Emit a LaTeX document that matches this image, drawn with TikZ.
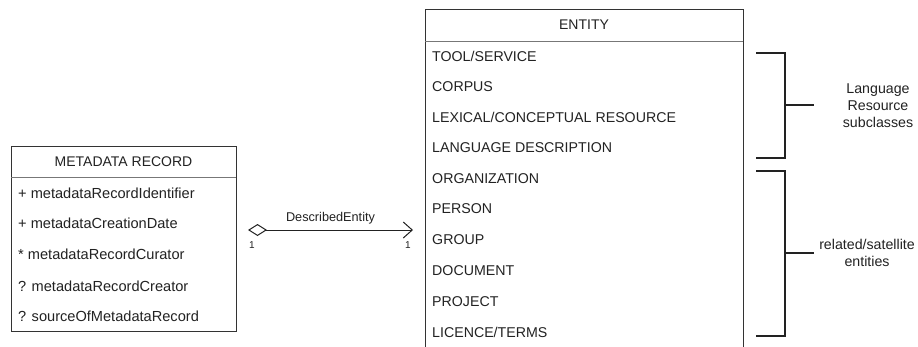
\documentclass[tikz,border=0pt]{standalone}
\usepackage{fontspec}
\setmainfont{Liberation Sans}
\usetikzlibrary{arrows.meta,calc}
\definecolor{boxline}{HTML}{333333}
\definecolor{divline}{HTML}{777777}
\definecolor{txt}{HTML}{222222}
\begin{document}
\begin{tikzpicture}[x=1pt,y=-1pt,
  box/.style={draw=boxline,line width=1pt,rectangle,inner sep=0pt,anchor=north west},
  item/.style={anchor=west,inner sep=0pt,text=txt,font=\fontsize{14.2}{16}\selectfont},
  mitem/.style={anchor=west,inner sep=0pt,text=txt,font=\fontsize{14.6}{16}\selectfont},
  head/.style={anchor=center,inner sep=0pt,text=txt,font=\fontsize{14}{16}\selectfont},
  small/.style={inner sep=0pt,text=txt,font=\fontsize{12.7}{15}\selectfont},
  tiny/.style={inner sep=0pt,text=txt,font=\fontsize{10}{11}\selectfont},
  brace/.style={draw=txt,line width=2pt},
  note/.style={align=center,inner sep=0pt,text=txt,font=\fontsize{14.2}{17}\selectfont}]
\useasboundingbox (0,0) rectangle (918,346);
\clip (0,0) rectangle (918,346);
\fill[white] (0,0) rectangle (918,346);
% METADATA RECORD
\node[box,minimum width=225pt,minimum height=185pt] (meta) at (11,146) {};
\draw[divline,line width=1pt] (11,177) -- (236,177);
\node[head] (metah) at (123.5,162) {METADATA RECORD};
\node[mitem] (m1) at (18,193) {+ metadataRecordIdentifier};
\node[mitem] (m2) at (18,223) {+ metadataCreationDate};
\node[mitem] (m3) at (18,254) {* metadataRecordCurator};
\node[mitem] (m4) at (18,286) {? metadataRecordCreator};
\node[mitem] (m5) at (18,316) {? sourceOfMetadataRecord};
% ENTITY
\node[box,minimum width=318pt,minimum height=360pt] (ent) at (425,9) {};
\draw[divline,line width=1pt] (425,41) -- (743,41);
\node[head] (enth) at (584,25) {ENTITY};
\node[item] (e1) at (432,56) {TOOL/SERVICE};
\node[item] (e2) at (432,87) {CORPUS};
\node[item] (e3) at (432,117) {LEXICAL/CONCEPTUAL RESOURCE};
\node[item] (e4) at (432,148) {LANGUAGE DESCRIPTION};
\node[item] (e5) at (432,179) {ORGANIZATION};
\node[item] (e6) at (432,209) {PERSON};
\node[item] (e7) at (432,240) {GROUP};
\node[item] (e8) at (432,271) {DOCUMENT};
\node[item] (e9) at (432,302) {PROJECT};
\node[item] (e10) at (432,332) {LICENCE/TERMS};
% association
\coordinate (src) at ($(meta.north east)+(11,84)$);
\coordinate (dst) at ($(ent.north west)+(-12,221)$);
\draw[txt,line width=1pt,{Diamond[open,length=19pt,width=12pt]}-{Straight Barb[length=9pt,width=16pt,line width=1pt]}] (src) -- (dst)
  node[small,midway,above=5pt] (lbl) {DescribedEntity};
\node[tiny] (c1) at (252,245) {1};
\node[tiny] (c2) at (408,245) {1};
% brackets
\draw[brace] (756,53) -- (785,53) -- (785,158) -- (756,158);
\draw[brace] (785,105) -- (814,105);
\node[note] (lr) at (878,106) {Language\\Resource\\subclasses};
\draw[brace] (756,171) -- (785,171) -- (785,336) -- (756,336);
\draw[brace] (785,253) -- (814,253);
\node[note] (rel) at (867,253) {related/satellite\\entities};
\end{tikzpicture}
\end{document}
